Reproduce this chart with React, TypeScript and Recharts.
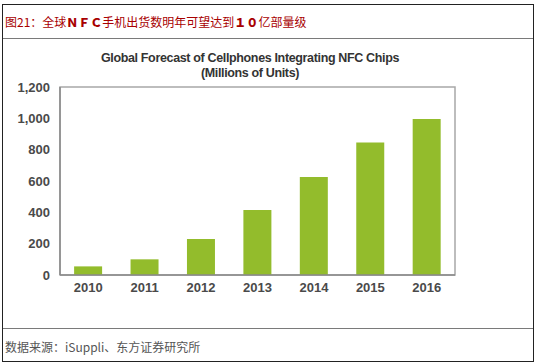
import React from "react";
import { BarChart, Bar, XAxis, YAxis, ReferenceArea } from "recharts";

const years = ["2010", "2011", "2012", "2013", "2014", "2015", "2016"];
const units = [55, 100, 230, 415, 625, 845, 995];
const yTicks = [0, 200, 400, 600, 800, 1000, 1200];

const headerParts = [
  { text: "图21：全球", bold: false },
  { text: "ＮＦＣ", bold: true },
  { text: "手机出货数明年可望达到", bold: false },
  { text: "１０", bold: true },
  { text: "亿部量级", bold: false },
];
const chartTitle1 = "Global Forecast of Cellphones Integrating NFC Chips";
const chartTitle2 = "(Millions of Units)";
const sourceText = "数据来源：iSuppli、东方证券研究所";

const data = years.map((y, i) => ({ year: y, value: units[i] }));

const tickStyle = {
  fontFamily: "'Liberation Sans', Arial, sans-serif",
  fontSize: 13,
  fontWeight: 700,
  fill: "#4a4a4a",
};

export default function App() {
  return (
    <div
      style={{
        position: "absolute",
        left: 0,
        top: 0,
        width: 538,
        height: 364,
        background: "#fff",
        overflow: "hidden",
      }}
    >
      <div
        style={{
          position: "absolute",
          left: 2,
          top: 4,
          width: 530,
          height: 356,
          border: "1.5px solid #222",
        }}
      />
      <div style={{ position: "absolute", left: 3, top: 38, width: 530, height: 1, background: "#7a7a7a" }} />
      <div style={{ position: "absolute", left: 3, top: 328, width: 530, height: 1, background: "#7a7a7a" }} />

      <div
        style={{
          position: "absolute",
          left: 5,
          top: 14,
          fontFamily: "'Noto Sans CJK SC', sans-serif",
          fontSize: 12,
          lineHeight: "16px",
          color: "#a80000",
          whiteSpace: "nowrap",
        }}
      >
        {headerParts.map((p, i) => (
          <span
            key={i}
            style={
              p.bold
                ? { fontWeight: 900, fontFamily: "'Liberation Serif', 'Noto Sans CJK SC', serif" }
                : undefined
            }
          >
            {p.text}
          </span>
        ))}
      </div>

      <div
        style={{
          position: "absolute",
          left: 5,
          top: 339,
          fontFamily: "'Noto Sans CJK SC', sans-serif",
          fontSize: 12,
          lineHeight: "16px",
          color: "#555",
          whiteSpace: "nowrap",
        }}
      >
        {sourceText}
      </div>

      <div
        style={{
          position: "absolute",
          left: 50,
          top: 51,
          width: 400,
          textAlign: "center",
          fontFamily: "'Liberation Sans', Arial, sans-serif",
          fontWeight: 700,
          fontSize: 12.5,
          lineHeight: "15px",
          letterSpacing: -0.35,
          color: "#333",
          whiteSpace: "nowrap",
        }}
      >
        <div>{chartTitle1}</div>
        <div>{chartTitle2}</div>
      </div>

      <div style={{ position: "absolute", left: 0, top: 0 }}>
        <BarChart
          width={538}
          height={364}
          data={data}
          margin={{ top: 87, right: 83, bottom: 0, left: 0 }}
          barCategoryGap="25%"
        >
          <XAxis
            dataKey="year"
            height={89}
            tickLine={false}
            tickSize={0}
            tickMargin={8}
            axisLine={{ stroke: "#8a8a8a", strokeWidth: 1.5 }}
            tick={tickStyle}
            interval={0}
          />
          <YAxis
            width={60}
            domain={[0, 1200]}
            ticks={yTicks}
            tickLine={false}
            tickSize={0}
            tickMargin={10}
            axisLine={{ stroke: "#8a8a8a", strokeWidth: 1.5 }}
            tick={tickStyle}
            tickFormatter={(v: number) => v.toLocaleString("en-US")}
            interval={0}
          />
          <ReferenceArea y1={0} y2={1200} fill="none" stroke="#a8a8a8" strokeWidth={1.5} ifOverflow="visible" />
          <Bar dataKey="value" fill="#93bc2c" isAnimationActive={false} />
        </BarChart>
      </div>
    </div>
  );
}
